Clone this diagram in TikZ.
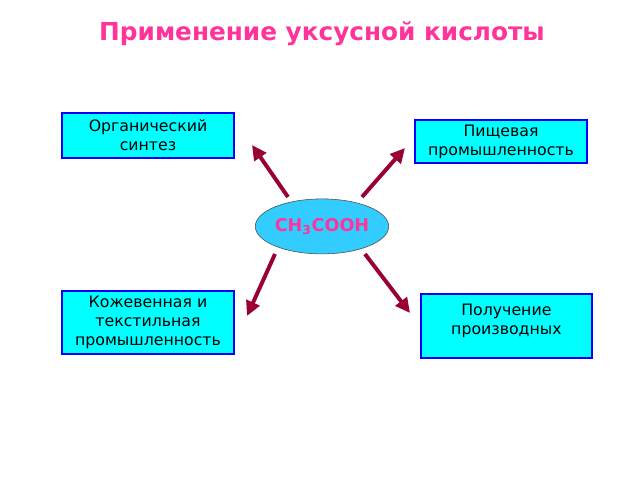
\documentclass[tikz,border=0pt]{standalone}
\usepackage{fontspec}
\setmainfont{DejaVu Sans}
\usepackage{xcolor}
\usetikzlibrary{shapes.geometric, arrows.meta}
\definecolor{boxcyan}{HTML}{00FFFF}
\definecolor{boxblue}{HTML}{0000FF}
\definecolor{ovalblue}{HTML}{33CCFF}
\definecolor{titlepink}{HTML}{FF3399}
\definecolor{arrowred}{HTML}{990033}

\begin{document}
\begin{tikzpicture}[
        usebox/.style={draw=boxblue, line width=1.6pt, fill=boxcyan, minimum width=4.3cm,
                       minimum height=#1, font=\fontsize{11.2}{13.5}\selectfont, align=center,
                       inner sep=1pt},
        arrow/.style={-{Triangle[length=10.5pt, width=10pt]}, line width=2.8pt, arrowred},
    ]
        \useasboundingbox (0,0) rectangle (16,12);

        %--- Titel ---
        \node[font=\fontsize{17.6}{20}\selectfont\bfseries, text=titlepink] (title) at (8.05,11.15)
              {Применение уксусной кислоты};

        %--- Zentrum ---
        \node[ellipse, draw=black!70, thin, fill=ovalblue, minimum width=3.1cm, minimum height=1.375cm,
              font=\fontsize{12.5}{15}\selectfont\bfseries, text=titlepink, inner sep=0pt]
              (acid) at (8.05,6.34) {CH\textsubscript{3}COOH};

        %--- Kaesten ---
        \node[usebox=1.125cm] (org)  at (3.7,8.61)    {Органический\\синтез};
        \node[usebox=1.075cm] (food) at (12.525,8.46) {Пищевая\\промышленность};
        \node[usebox=1.575cm] (leather) at (3.7,3.94) {Кожевенная и\\текстильная\\промышленность};
        \node[usebox=1.6cm, minimum width=4.275cm, text depth=0.35cm] (deriv) at (12.66,3.85)
              {Получение\\производных};

        %--- Pfeile ---
        \coordinate (s1) at (7.2,7.075);   \coordinate (e1) at (6.3,8.375);
        \coordinate (s2) at (9.05,7.075);  \coordinate (e2) at (10.125,8.3);
        \coordinate (s3) at (6.875,5.65);  \coordinate (e3) at (6.175,4.1);
        \coordinate (s4) at (9.125,5.65);  \coordinate (e4) at (10.25,4.175);

        \draw[arrow] (s1) -- (e1);
        \draw[arrow] (s2) -- (e2);
        \draw[arrow] (s3) -- (e3);
        \draw[arrow] (s4) -- (e4);
    \end{tikzpicture}
\end{document}
